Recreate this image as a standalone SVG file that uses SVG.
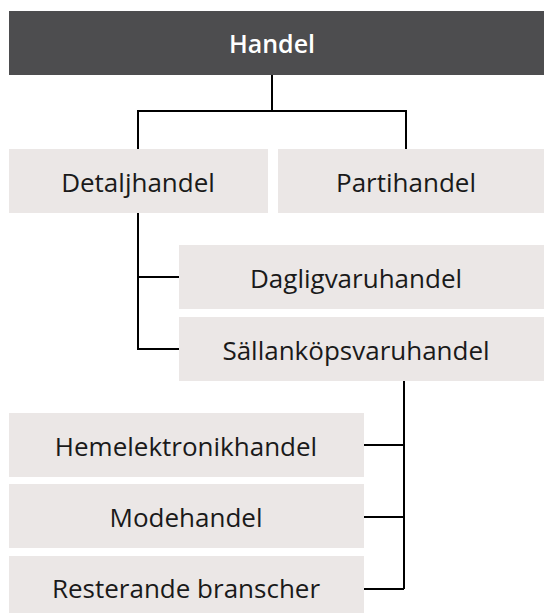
<svg xmlns="http://www.w3.org/2000/svg" width="544" height="613" viewBox="0 0 544 613">
  <style>
    .box { fill: #ebe7e6; }
    .head { fill: #4d4d4f; }
    .lbl { font-family: "Open Sans", "Noto Sans", sans-serif; font-size: 26px; fill: #1a1a1a; text-anchor: middle; dominant-baseline: central; }
    .hlbl { font-family: "Open Sans", "Noto Sans", sans-serif; font-size: 25px; font-weight: 600; fill: #ffffff; text-anchor: middle; dominant-baseline: central; }
    .wire { fill: none; stroke: #000; stroke-width: 2; }
  </style>
  <rect width="544" height="613" fill="#ffffff"/>

  <!-- tree connectors -->
  <g id="connectors">
    <path class="wire" d="M272 75 V111 M138 149 V111 H406 V149"/>
    <path class="wire" d="M138 213 V349 H179 M138 277 H179"/>
    <path class="wire" d="M404 381 V589 M364 445 H404 M364 517 H404 M364 589 H404"/>
  </g>

  <g id="handel">
    <rect class="head" x="9" y="11" width="535" height="64"/>
    <text class="hlbl" x="272" y="43">Handel</text>
  </g>
  <g id="detaljhandel">
    <rect class="box" x="9" y="149" width="259" height="64"/>
    <text class="lbl" x="138" y="182">Detaljhandel</text>
  </g>
  <g id="partihandel">
    <rect class="box" x="278" y="149" width="266" height="64"/>
    <text class="lbl" x="406" y="182">Partihandel</text>
  </g>
  <g id="dagligvaruhandel">
    <rect class="box" x="179" y="245" width="365" height="64"/>
    <text class="lbl" x="356" y="278">Dagligvaruhandel</text>
  </g>
  <g id="sallankopsvaruhandel">
    <rect class="box" x="179" y="317" width="365" height="64"/>
    <text class="lbl" x="356" y="350">Sällanköpsvaruhandel</text>
  </g>
  <g id="hemelektronikhandel">
    <rect class="box" x="9" y="413" width="355" height="64"/>
    <text class="lbl" x="186" y="446">Hemelektronikhandel</text>
  </g>
  <g id="modehandel">
    <rect class="box" x="9" y="484" width="355" height="64"/>
    <text class="lbl" x="186" y="517">Modehandel</text>
  </g>
  <g id="resterande">
    <rect class="box" x="9" y="556" width="355" height="57"/>
    <text class="lbl" x="186" y="588">Resterande branscher</text>
  </g>
</svg>
